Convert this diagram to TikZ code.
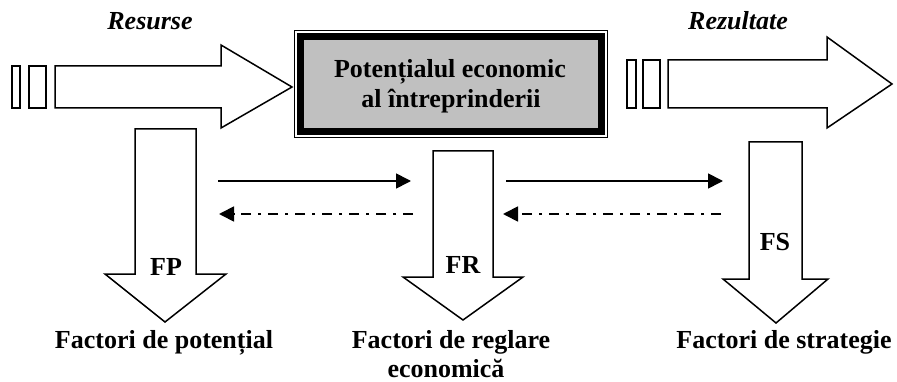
\documentclass[tikz,border=0pt]{standalone}
\usepackage{fontspec}
\setmainfont{Liberation Serif}
\usetikzlibrary{arrows.meta}
\definecolor{boxgray}{RGB}{192,192,192}
\begin{document}
\begin{tikzpicture}[x=1pt,y=-1pt,
  font=\fontsize{26}{30}\selectfont,
  blockarrow/.style={draw, line width=1.5pt, line join=miter, fill=white},
  lbl/.style={font=\fontsize{26}{30}\selectfont\bfseries, anchor=base, inner sep=0pt},
  ilbl/.style={font=\fontsize{26}{30}\selectfont\bfseries\itshape, anchor=base, inner sep=0pt},
  flow/.style={line width=1.7pt, -{Triangle[length=15pt,width=15pt]}},
  backflow/.style={flow, dash pattern=on 10pt off 7pt on 3pt off 7pt}]
\useasboundingbox (0,0) rectangle (897,382);

% input arrow with its two tail bars
\draw[blockarrow] (12,66) rectangle (20,108);
\draw[blockarrow] (29,66) rectangle (46,108);
\draw[blockarrow] (55,66) -- (221,66) -- (221,45) -- (292,87) -- (221,128) -- (221,108) -- (55,108) -- cycle;
\node[ilbl] (res) at (150,30) {Resurse};

% output arrow with its two tail bars
\draw[blockarrow] (627,60) rectangle (636,108);
\draw[blockarrow] (643,60) rectangle (660,108);
\draw[blockarrow] (668,60) -- (827,60) -- (827,37) -- (892,84) -- (827,128) -- (827,108) -- (668,108) -- cycle;
\node[ilbl] (rez) at (738,30) {Rezultate};

% central block: thin outer frame, thick black frame, grey field
\draw[line width=1.3pt] (294.5,30.5) rectangle (607.5,137.5);
\draw[line width=7pt, fill=boxgray] (300.5,36.5) rectangle (601.5,131.5);
\node[lbl] (pot1) at (450,78) {Potențialul economic};
\node[lbl] (pot2) at (451,108) {al întreprinderii};

% downward factor arrows
\draw[blockarrow] (135,129) -- (196,129) -- (196,274) -- (226,274) -- (165,322) -- (105,274) -- (135,274) -- cycle;
\node[lbl] (fp) at (166,276) {FP};
\draw[blockarrow] (433,151) -- (493,151) -- (493,277) -- (523,277) -- (463,320) -- (403,277) -- (433,277) -- cycle;
\node[lbl] (fr) at (463,273) {FR};
\draw[blockarrow] (749,142) -- (802,142) -- (802,279) -- (828,279) -- (776,323) -- (723,279) -- (749,279) -- cycle;
\node[lbl] (fs) at (775,251) {FS};

% factor names
\node[lbl] (tp) at (164,348) {Factori de potențial};
\node[lbl] (tr1) at (451,348) {Factori de reglare};
\node[lbl] (tr2) at (446,377) {economică};
\node[lbl] (ts) at (784,348) {Factori de strategie};

% links between the factor groups
\coordinate (a1) at (218,181);
\coordinate (a2) at (411,181);
\coordinate (b1) at (413,214);
\coordinate (b2) at (219,214);
\coordinate (c1) at (506,181);
\coordinate (c2) at (723,181);
\coordinate (d1) at (721,214);
\coordinate (d2) at (503,214);
\draw[flow] (a1) -- (a2);
\draw[backflow] (b1) -- (b2);
\draw[flow] (c1) -- (c2);
\draw[backflow] (d1) -- (d2);
\end{tikzpicture}
\end{document}
